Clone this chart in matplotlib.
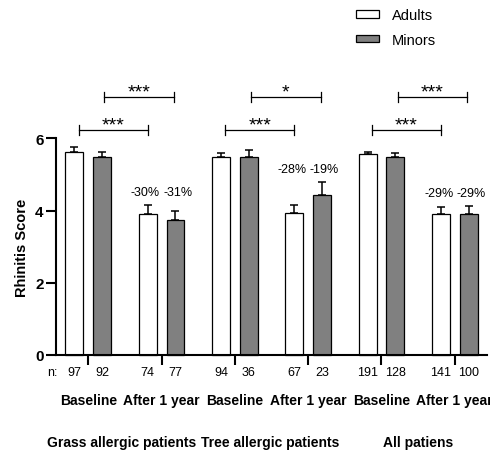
import numpy as np
import matplotlib
matplotlib.use("Agg")
import matplotlib.pyplot as plt
from matplotlib.patches import Patch

plt.rcParams["font.family"] = ["Liberation Sans", "DejaVu Sans"]

# ── data ─────────────────────────────────────────────────────────────────────
timepoints = ["Baseline", "After 1 year", "Baseline", "After 1 year", "Baseline", "After 1 year"]
groups = ["Grass allergic patients", "Tree allergic patients", "All patiens"]

adults_mean = [5.62, 3.91, 5.49, 3.92, 5.56, 3.91]
adults_err = [0.13, 0.25, 0.09, 0.24, 0.07, 0.18]
minors_mean = [5.49, 3.75, 5.47, 4.42, 5.47, 3.91]
minors_err = [0.14, 0.23, 0.20, 0.38, 0.12, 0.21]

adults_n = [97, 74, 94, 67, 191, 141]
minors_n = [92, 77, 36, 23, 128, 100]

adults_change = ["", "-30%", "", "-28%", "", "-29%"]
minors_change = ["", "-31%", "", "-19%", "", "-29%"]

# (baseline index, significance) for adults (lower) and minors (upper) brackets
sig_adults = [(0, "***"), (2, "***"), (4, "***")]
sig_minors = [(0, "***"), (2, "*"), (4, "***")]

# ── figure ───────────────────────────────────────────────────────────────────
fig = plt.figure(figsize=(4.9, 4.56), dpi=100)
ax = fig.add_axes([0.1143, 0.2193, 0.8796, 0.4752])

x = np.arange(len(timepoints))
off = 0.19
w = 0.245

ax.bar(x - off, adults_mean, w, color="white", edgecolor="black", linewidth=0.9,
       clip_on=False, zorder=2)
ax.bar(x + off, minors_mean, w, color="#808080", edgecolor="black", linewidth=0.9,
       clip_on=False, zorder=2)
ax.errorbar(x - off, adults_mean, yerr=[np.zeros(6), adults_err], fmt="none",
            ecolor="black", elinewidth=1.1, capsize=3.2, capthick=1.1, clip_on=False, zorder=1)
ax.errorbar(x + off, minors_mean, yerr=[np.zeros(6), minors_err], fmt="none",
            ecolor="black", elinewidth=1.1, capsize=3.2, capthick=1.1, clip_on=False, zorder=1)

# percent change labels
for i in range(len(x)):
    if adults_change[i]:
        top = max(adults_mean[i] + adults_err[i], minors_mean[i] + minors_err[i])
        ax.text(x[i] - 0.22, top + 0.36, adults_change[i], ha="center", va="center", fontsize=9)
        ax.text(x[i] + 0.22, top + 0.36, minors_change[i], ha="center", va="center", fontsize=9)

# significance brackets
def bracket(x0, x1, y, label):
    ax.plot([x0, x1], [y, y], color="black", lw=0.9, clip_on=False)
    for xx in (x0, x1):
        ax.plot([xx, xx], [y - 0.13, y + 0.13], color="black", lw=0.9, clip_on=False)
    ax.text((x0 + x1) / 2, y + 0.02, label, ha="center", va="baseline", fontsize=14)

for i, lab in sig_adults:
    bracket(i - 0.13, i + 1 - 0.19, 6.23, lab)
for i, lab in sig_minors:
    bracket(i + 0.22, i + 1 + 0.17, 7.14, lab)

# axes styling
ax.set_xlim(-0.44, 5.44)
ax.set_ylim(0, 6)
ax.set_yticks([0, 2, 4, 6])
ax.set_xticks(x)
ax.set_xticklabels([])
for s in ("top", "right"):
    ax.spines[s].set_visible(False)
for s in ("left", "bottom"):
    ax.spines[s].set_linewidth(1.5)
ax.tick_params(axis="both", width=1.5, length=7)
ax.tick_params(axis="y", labelsize=11, pad=2)
for t in ax.get_yticklabels():
    t.set_fontweight("bold")
ax.set_ylabel("Rhinitis Score", fontsize=10.5, fontweight="bold", labelpad=4)

# n counts, time labels, group labels below axis
tr = ax.get_xaxis_transform()
ax.text(-0.485, -0.0785, "n:", transform=tr, ha="center", va="center", fontsize=9)
for i in range(len(x)):
    ax.text(x[i] - off, -0.0785, str(adults_n[i]), transform=tr, ha="center", va="center", fontsize=9)
    ax.text(x[i] + off, -0.0785, str(minors_n[i]), transform=tr, ha="center", va="center", fontsize=9)
    ax.text(x[i], -0.206, timepoints[i], transform=tr, ha="center", va="center",
            fontsize=10, fontweight="bold", clip_on=False)
for gx, g in zip([0.46, 2.48, 4.5], groups):
    ax.text(gx, -0.403, g, transform=tr, ha="center", va="center", fontsize=10, fontweight="bold")

# legend
handles = [Patch(facecolor="white", edgecolor="black", linewidth=0.9, label="Adults"),
           Patch(facecolor="#808080", edgecolor="black", linewidth=0.9, label="Minors")]
fig.legend(handles=handles, loc="upper left", bbox_to_anchor=(356 / 490, 1 - 9.5 / 456),
           frameon=False, fontsize=10.5, handlelength=1.58, handleheight=0.45,
           handletextpad=0.9, labelspacing=0.7, borderpad=0, borderaxespad=0)

fig.savefig("out.png", dpi=100)
